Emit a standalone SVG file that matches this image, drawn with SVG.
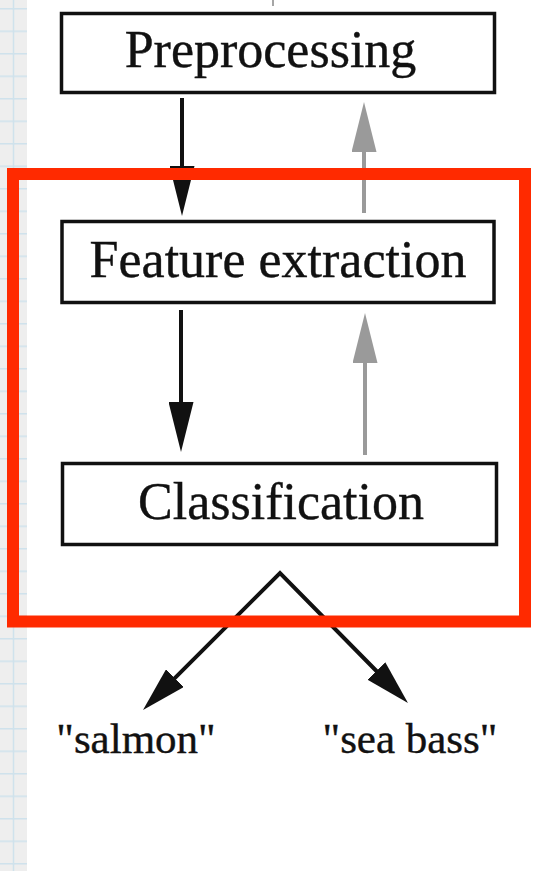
<svg xmlns="http://www.w3.org/2000/svg" width="533" height="871" viewBox="0 0 533 871">
<style>
.box{fill:#fff;stroke:#111;stroke-width:3.5}
.lbl{font-family:"Liberation Serif","Times New Roman",serif;font-size:52px;fill:#111;stroke:#111;stroke-width:0.4;text-anchor:middle}
.out{font-family:"Liberation Serif","Times New Roman",serif;font-size:43px;fill:#111;stroke:#111;stroke-width:0.4;text-anchor:middle}
.blk{stroke:#111;stroke-width:4;fill:none}
.gry{stroke:#9a9a9a;stroke-width:4;fill:none}
.grid{stroke:#cfe2ec;stroke-width:1.5}
</style>
<defs>
<marker id="ahb" markerUnits="userSpaceOnUse" markerWidth="50" markerHeight="25" refX="5" refY="12.5" orient="auto" viewBox="0 0 50 25"><path d="M0,0 L50,12.5 L0,25 z" fill="#111"/></marker>
<marker id="ahg" markerUnits="userSpaceOnUse" markerWidth="50" markerHeight="25" refX="5" refY="12.5" orient="auto" viewBox="0 0 50 25"><path d="M0,0 L50,12.5 L0,25 z" fill="#9a9a9a"/></marker>
<marker id="ahd" markerUnits="userSpaceOnUse" markerWidth="45" markerHeight="25" refX="5" refY="12.5" orient="auto-start-reverse" viewBox="0 0 45 25"><path d="M0,0 L45,12.5 L0,25 z" fill="#111"/></marker>
<pattern id="gp" patternUnits="userSpaceOnUse" x="0" y="8" width="27" height="22.5">
<rect width="27" height="22.5" fill="#eeeeee"/>
<line x1="0" y1="0.75" x2="27" y2="0.75" class="grid"/>
<line x1="13.5" y1="0" x2="13.5" y2="22.5" class="grid"/>
</pattern>
</defs>
<rect width="533" height="871" fill="#fff"/>
<rect x="0" y="0" width="27" height="871" fill="url(#gp)"/>
<line x1="273" y1="0" x2="273" y2="6" stroke="#888" stroke-width="1.5"/>
<g id="connectors">
<line class="blk" x1="182" y1="98" x2="182" y2="171" marker-end="url(#ahb)"/>
<line class="gry" x1="364" y1="213" x2="364" y2="147" marker-end="url(#ahg)"/>
<line class="blk" x1="181" y1="310" x2="181" y2="407" marker-end="url(#ahb)"/>
<line class="gry" x1="365" y1="455" x2="365" y2="358" marker-end="url(#ahg)"/>
<path class="blk" stroke-width="3.5" stroke-linejoin="miter" d="M171.3,681.7 L280,573 L379.9,674.5" marker-start="url(#ahd)" marker-end="url(#ahd)"/>
</g>
<g id="preprocessing">
<rect class="box" x="61.5" y="13.5" width="433" height="79"/>
<text class="lbl" x="270.5" y="67">Preprocessing</text>
</g>
<g id="feature-extraction">
<rect class="box" x="62" y="221.5" width="432" height="81"/>
<text class="lbl" x="278" y="277">Feature extraction</text>
</g>
<g id="classification">
<rect class="box" x="62.5" y="463.5" width="434" height="81"/>
<text class="lbl" x="281" y="519">Classification</text>
</g>
<g id="salmon"><text class="out" x="136" y="753">"salmon"</text></g>
<g id="sea-bass"><text class="out" x="410" y="753">"sea bass"</text></g>
<g id="highlight">
<rect x="13" y="174" width="512" height="447.5" fill="none" stroke="#ff2a00" stroke-width="12"/>
</g>
</svg>
